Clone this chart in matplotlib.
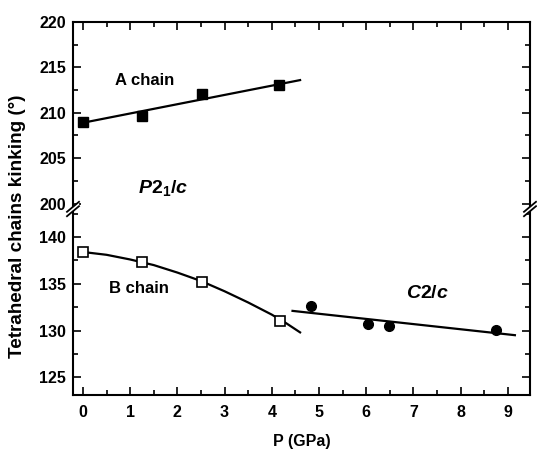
import numpy as np
import matplotlib
matplotlib.use('Agg')
from matplotlib import pyplot as plt
from matplotlib.ticker import MultipleLocator
from matplotlib.patches import Polygon

plt.rcParams['font.family'] = ['Liberation Sans', 'DejaVu Sans']
plt.rcParams['font.size'] = 11
plt.rcParams['font.weight'] = 'bold'
plt.rcParams['mathtext.fontset'] = 'custom'
plt.rcParams['mathtext.it'] = 'Liberation Sans:italic:bold'
plt.rcParams['mathtext.rm'] = 'Liberation Sans:bold'

# A chain (P2_1/c), filled squares
a_p = [0.0, 1.25, 2.52, 4.15]
a_ang = [209.0, 209.7, 212.1, 213.1]
a_fit_p = [0.0, 4.6]
a_fit_ang = [208.9, 213.6]

# B chain (P2_1/c), open squares
b_p = [0.0, 1.25, 2.52, 4.17]
b_ang = [138.4, 137.3, 135.2, 131.0]
b_fit_p = [0.0, 0.5, 1.0, 1.5, 2.0, 2.5, 3.0, 3.5, 4.0, 4.3, 4.6]
b_fit_ang = [138.4, 138.1, 137.6, 137.0, 136.2, 135.3, 134.2, 133.0, 131.7, 130.8, 129.8]

# C2/c, filled circles
c_p = [4.84, 6.04, 6.49, 8.74]
c_ang = [132.6, 130.7, 130.5, 130.1]
c_fit_p = [4.44, 9.15]
c_fit_ang = [132.1, 129.5]

W, H = 537, 453
fig = plt.figure(figsize=(W / 100, H / 100), dpi=100)
left, right = 73 / W, 530 / W
top_y, mid_y, bot_y = 1 - 22 / H, 1 - 209 / H, 1 - 395 / H
ax_top = fig.add_axes([left, mid_y, right - left, top_y - mid_y])
ax_bot = fig.add_axes([left, bot_y, right - left, mid_y - bot_y], sharex=ax_top)

lw = 1.6
for ax in (ax_top, ax_bot):
    for s in ax.spines.values():
        s.set_linewidth(1.5)
    ax.xaxis.set_minor_locator(MultipleLocator(0.5))
    ax.xaxis.set_major_locator(MultipleLocator(1))
    ax.yaxis.set_major_locator(MultipleLocator(5))
    ax.yaxis.set_minor_locator(MultipleLocator(2.5))
    ax.tick_params(which='both', direction='in', width=1.2, right=True, labelsize=11.5)
    ax.tick_params(which='major', length=6)
    ax.tick_params(which='minor', length=3.5)
    ax.tick_params(axis='y', pad=5)
    ax.tick_params(axis='x', pad=7)

ax_top.spines['bottom'].set_visible(False)
ax_bot.spines['top'].set_visible(False)
ax_top.tick_params(which='both', bottom=False, labelbottom=False, top=True)
ax_bot.tick_params(which='both', top=False)

ax_top.set_xlim(-0.21, 9.47)
ax_top.set_ylim(199.4, 220)
ax_bot.set_ylim(123.1, 143.0)

ax_top.plot(a_fit_p, a_fit_ang, color='black', lw=lw)
ax_top.plot(a_p, a_ang, 's', color='black', ms=7)
ax_bot.plot(b_fit_p, b_fit_ang, color='black', lw=lw)
ax_bot.plot(b_p, b_ang, 's', mfc='white', mec='black', mew=1.2, ms=6.5)
ax_bot.plot(c_fit_p, c_fit_ang, color='black', lw=lw)
ax_bot.plot(c_p, c_ang, 'o', color='black', ms=7)

ax_top.text(1.31, 213.6, 'A chain', ha='center', va='center', fontsize=12)
ax_top.text(1.7, 201.7, r'$P2_1/c$', ha='center', va='center', fontsize=14)
ax_bot.text(1.19, 134.5, 'B chain', ha='center', va='center', fontsize=12)
ax_bot.text(7.29, 134.0, r'$C2/c$', ha='center', va='center', fontsize=14)

ax_bot.set_xlabel('P (GPa)', fontsize=11.5, fontweight='bold', labelpad=10)
fig.text(0.033, 1 - 226.5 / H, 'Tetrahedral chains kinking (°)',
         rotation=90, ha='center', va='center', fontsize=13.6, fontweight='bold')

# break marks on both side spines
for xs in (73, 530):
    cx, cy = xs / W, 1 - 209 / H
    dx, dy = 6 / W, 5 / H
    g = 2.2 / H
    poly = Polygon([[cx - dx, cy - dy - g], [cx + dx, cy + dy - g],
                    [cx + dx, cy + dy + g], [cx - dx, cy - dy + g]],
                   closed=True, transform=fig.transFigure, fc='white', ec='none', zorder=10)
    fig.add_artist(poly)
    for off in (-g, g):
        fig.add_artist(plt.Line2D([cx - dx, cx + dx], [cy - dy + off, cy + dy + off],
                                  transform=fig.transFigure, color='black', lw=1.3, zorder=11))

plt.savefig('out.png', dpi=100)
